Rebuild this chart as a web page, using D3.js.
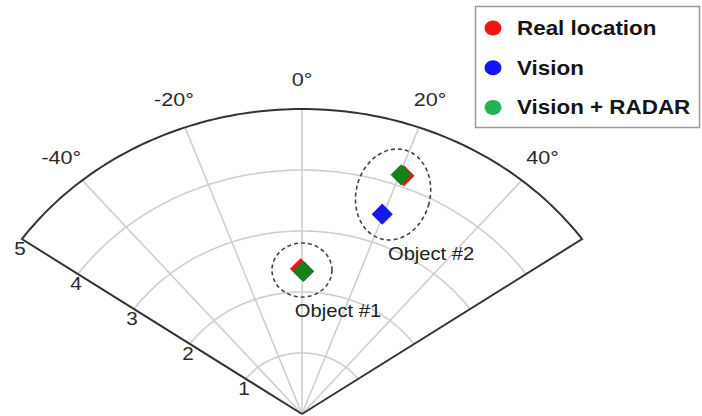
<!DOCTYPE html>
<html>
<head>
<meta charset="utf-8">
<script src="https://cdn.jsdelivr.net/npm/d3@7"></script>
<style>
  body { margin: 0; background: #fff; }
  svg { display: block; font-family: "Liberation Sans", Arial, sans-serif; }
</style>
</head>
<body>
<div id="chart"></div>
<script>
// data (range in m, bearing in degrees)
const objects = ["Object #1", "Object #2"];
const realRange = [2.38, 4.18];
const realBearing = [-0.5, 20.9];
const visionRange = [2.34, 3.48];
const visionBearing = [0.5, 19.7];
const fusedRange = [2.34, 4.18];
const fusedBearing = [0.5, 20.3];

const rangeTicks = [1, 2, 3, 4, 5];
const bearingTicks = [-40, -20, 0, 20, 40];
const seriesNames = ["Real location", "Vision", "Vision + RADAR"];
const seriesColors = ["#f01414", "#1414f5", "#1fb354"];

const width = 702, height = 416;
const cx = 302, cy = 414;
const sx = 1.121;   // the picture is a bit wider than tall

const svg = d3.select("#chart").append("svg")
    .attr("width", width)
    .attr("height", height);

const r = d3.scaleLinear().domain([0, 5]).range([0, 305]);
const a = d3.scaleLinear().domain([-55, 55]).range([-55 * Math.PI / 180, 55 * Math.PI / 180]);

function project(rv, deg, extra = 0) {
    const rp = r(rv) + extra, t = a(deg);
    return [cx + sx * rp * Math.sin(t), cy - rp * Math.cos(t)];
}

const line = d3.line();
const arcSteps = d3.range(-55, 55.01, 1);

// grid rings
svg.append("g").selectAll("path")
    .data(rangeTicks.slice(0, -1))
    .join("path")
    .attr("d", d => line(arcSteps.map(t => project(d, t))))
    .attr("fill", "none")
    .attr("stroke", "#cfcfcf")
    .attr("stroke-width", 1.6);

// grid spokes
svg.append("g").selectAll("line")
    .data(bearingTicks)
    .join("line")
    .attr("x1", cx).attr("y1", cy)
    .attr("x2", d => project(5, d)[0])
    .attr("y2", d => project(5, d)[1])
    .attr("stroke", "#cfcfcf")
    .attr("stroke-width", 1.6);

// outline of the sector
const outline = [[cx, cy]].concat(arcSteps.map(t => project(5, t))).concat([[cx, cy]]);
svg.append("path")
    .attr("d", line(outline))
    .attr("fill", "none")
    .attr("stroke", "#333")
    .attr("stroke-width", 2)
    .attr("stroke-linejoin", "miter");

// bearing labels
svg.append("g").selectAll("text")
    .data(bearingTicks)
    .join("text")
    .attr("transform", d => {
        const p = project(5, d, 29);
        return `translate(${p[0]},${p[1]}) scale(1.2,1)`;
    })
    .attr("text-anchor", "middle")
    .attr("dy", "0.35em")
    .attr("font-size", 18)
    .attr("fill", "#2a2a2a")
    .text(d => d + "°");

// range labels along the left edge
svg.append("g").selectAll("text")
    .data(rangeTicks)
    .join("text")
    .attr("transform", d => {
        const p = project(d, -55);
        return `translate(${p[0] - 2},${p[1] + 10}) scale(1.15,1)`;
    })
    .attr("text-anchor", "middle")
    .attr("dy", "0.35em")
    .attr("font-size", 18)
    .attr("fill", "#2a2a2a")
    .text(d => d);

// markers: real, vision, fused (fused drawn on top)
const series = [
    {range: realRange, bearing: realBearing, color: "#ee1515"},
    {range: visionRange, bearing: visionBearing, color: "#1717f0"},
    {range: fusedRange, bearing: fusedBearing, color: "#16821a"}
];
const diamond = d3.symbol().type(d3.symbolSquare).size(225);

series.forEach(s => {
    svg.append("g").selectAll("path")
        .data(objects.map((o, i) => project(s.range[i], s.bearing[i])))
        .join("path")
        .attr("d", diamond())
        .attr("transform", d => `translate(${d[0]},${d[1]}) rotate(45)`)
        .attr("fill", s.color);
});

// dashed rings around each object, centred on its marks
const ringRx = [30, 37], ringRy = [27, 46], ringTilt = [0, 14.5];
const labelDx = [36, 38], labelDy = [47, 65];

objects.forEach((name, i) => {
    const pts = series.map(s => project(s.range[i], s.bearing[i]));
    const ex = d3.extent(pts, p => p[0]), ey = d3.extent(pts, p => p[1]);
    const mx = (ex[0] + ex[1]) / 2, my = (ey[0] + ey[1]) / 2;
    const g = svg.append("g");
    g.append("ellipse")
        .attr("transform", `translate(${mx},${my}) rotate(${ringTilt[i]})`)
        .attr("rx", ringRx[i])
        .attr("ry", ringRy[i])
        .attr("fill", "none")
        .attr("stroke", "#444")
        .attr("stroke-width", 1.6)
        .attr("stroke-dasharray", "4,3");
    g.append("text")
        .attr("transform", `translate(${mx + labelDx[i]},${my + labelDy[i]}) scale(${sx},1)`)
        .attr("text-anchor", "middle")
        .attr("font-size", 18)
        .attr("fill", "#222")
        .text(name);
});

// legend
const legend = svg.append("g");
legend.append("rect")
    .attr("x", 475.5).attr("y", 6.5)
    .attr("width", 224).attr("height", 121)
    .attr("fill", "#fff")
    .attr("stroke", "#999")
    .attr("stroke-width", 1.5);

const row = legend.selectAll("g.row")
    .data(seriesNames)
    .join("g")
    .attr("class", "row")
    .attr("transform", (d, i) => `translate(493,${28 + i * 39.7})`);
row.append("ellipse")
    .attr("rx", 8.5).attr("ry", 7.5)
    .attr("fill", (d, i) => seriesColors[i]);
row.append("text")
    .attr("transform", `translate(24,7) scale(${sx},1)`)
    .attr("font-size", 20)
    .attr("font-weight", "bold")
    .attr("fill", "#151515")
    .text(d => d);
</script>
</body>
</html>
